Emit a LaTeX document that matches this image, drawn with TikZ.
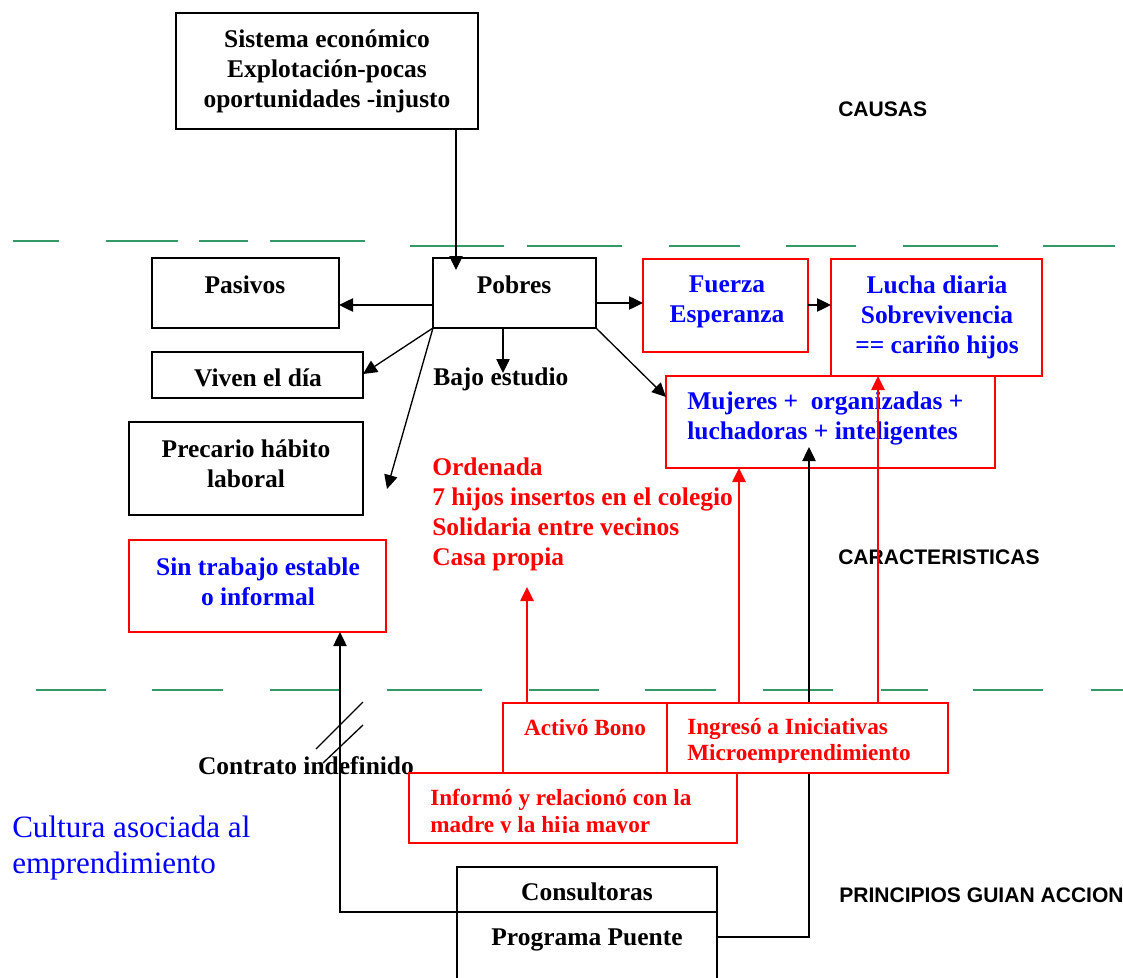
\documentclass[tikz,border=0pt]{standalone}
\usepackage{fontspec}
\setmainfont{Liberation Serif}
\setsansfont{Liberation Sans}
\usetikzlibrary{arrows.meta,fit,calc}
\definecolor{sgreen}{RGB}{51,153,102}
\begin{document}
\begin{tikzpicture}[x=0.75pt,y=-0.75pt,
  box/.style={draw=black,line width=1pt,inner sep=0pt,outer sep=0pt},
  rbox/.style={draw=red,line width=1.5pt,inner sep=0pt,outer sep=0pt},
  mt/.style={font=\bfseries\fontsize{19.1}{22.5}\selectfont,inner sep=0pt,align=center},
  bt/.style={mt,text=blue},
  rt/.style={font=\bfseries\fontsize{17.4}{20}\selectfont,inner sep=0pt,align=left,text=red},
  rl/.style={mt,align=left,text=red},
  st/.style={font=\sffamily\bfseries\fontsize{15.8}{19}\selectfont,inner sep=0pt,anchor=west},
  ct/.style={font=\fontsize{23.3}{27}\selectfont,inner sep=0pt,align=left,text=blue,anchor=west},
  arr/.style={-{Triangle[length=10.5pt,width=10pt]},line width=1pt,draw=black},
  rarr/.style={-{Triangle[length=10.5pt,width=10pt]},line width=1.2pt,draw=red},
  gdash/.style={draw=sgreen,line width=1.6pt}
]
\clip (0,0) rectangle (1123,977);

% green dashed separators
\foreach \a/\b in {13/59,106/178,199/248,270/365}{\draw[gdash] (\a,241) -- (\b,241);}
\foreach \a/\b in {410/504,527/622,669/740,786/856,903/998,1043/1115}{\draw[gdash] (\a,246) -- (\b,246);}
\foreach \a/\b in {36/106,152/223,270/340,387/482,529/599,645/716,763/833,881/928,973/1043,1091/1123}{\draw[gdash] (\a,690) -- (\b,690);}

% black boxes
\node[box,fit={(176,13) (478,129)}] (sis) {};
\node[mt] (sist) at (327,71) {Sistema económico\\Explotación-pocas\\oportunidades -injusto};
\node[box,fit={(152,258) (339,328)}] (pas) {};
\node[mt] (past) at (245,285) {Pasivos};
\node[box,fit={(433,258) (596,328)}] (pob) {};
\node[mt] (pobt) at (514,285) {Pobres};
\node[box,fit={(152,352) (363,398)}] (viv) {};
\node[mt] (vivt) at (258,378) {Viven el día};
\node[box,fit={(129,422) (363,515)}] (pre) {};
\node[mt] (pret) at (246,464) {Precario hábito\\laboral};
\node[mt,anchor=west] (bajo) at (433,379) {Bajo estudio};

% red boxes with blue text
\node[rbox,fit={(643,259) (808,352)}] (fue) {};
\node[bt] (fuet) at (727,302) {Fuerza\\Esperanza};
\node[rbox,fit={(831,259) (1042,376)}] (luc) {};
\node[bt] (luct) at (937,317) {Lucha diaria\\Sobrevivencia\\== cariño hijos};
\node[rbox,fit={(666,376) (995,468)}] (muj) {};
\node[bt,align=left,anchor=west] (mujt) at (687,418) {Mujeres +\ \ organizadas +\\luchadoras + inteligentes};
\node[rbox,fit={(129,540) (386,632)}] (sin) {};
\node[bt] (sint) at (258,582) {Sin trabajo estable\\o informal};

% red free text
\node[rl,anchor=west] (ord) at (432,514) {Ordenada\\7 hijos insertos en el colegio\\Solidaria entre vecinos\\Casa propia};

% side labels
\node[st] (causas) at (838,109) {CAUSAS};
\node[st] (carac) at (838,557) {CARACTERISTICAS};
\node[st] (princ) at (839,895) {PRINCIPIOS GUIAN ACCION};
\node[ct] (cult) at (12,848) {Cultura asociada al\\emprendimiento};

% consultoras / programa puente
\node[box,fit={(457,867) (717,995)}] (cons) {};
\draw[line width=1pt] (cons.west |- 0,912) -- (cons.east |- 0,912);
\node[mt] (const) at (587,892) {Consultoras};
\node[mt] (progt) at (587,940) {Programa Puente};

% black connectors
\coordinate (pobin) at (456,270);
\draw[arr] (sis.south -| pobin) -- (pobin);
\draw[arr] (pob.west |- 0,305) -- (pas.east |- 0,305);
\draw[arr] (pob.east |- 0,303) -- (fue.west |- 0,303);
\draw[arr] (fue.east |- 0,305) -- (luc.west |- 0,305);
\draw[arr] (pob.south west) -- (viv.east |- 0,374);
\coordinate (pretip) at (387,489);
\draw[arr] (pob.south west) -- (pretip);
\coordinate (bajotip) at (503,373);
\draw[arr] (pob.south -| bajotip) -- (bajotip);
\draw[arr] (pob.south east) -- (muj.west |- 0,397);
\coordinate (mujin) at (809,447);
\draw[arr] (cons.east |- 0,937) -| (mujin);
\draw[arr] (cons.west |- 0,912) -| (sin.south -| 340,0);

% contract slashes and label
\node[mt] (contr) at (306,766) {Contrato indefinido};
\draw[line width=1pt] (316,749) -- (363,702);
\draw[line width=1pt] (323,763) -- (363,725);

% bottom red boxes
\node[rbox,fill=white,fit={(503,703) (667,773)}] (act) {};
\node[rt,align=center] (actt) at (585,728) {Activó Bono};
\node[rbox,fill=white,fit={(667,703) (948,773)}] (ing) {};
\begin{scope}
\clip (667,703) rectangle (948,762);
\node[rt,anchor=west] (ingt) at (687,742) {Ingresó a Iniciativas\\Microemprendimiento};
\end{scope}
\node[rbox,fill=white,fit={(409,773) (737,843)}] (inf) {};
\begin{scope}
\clip (409,773) rectangle (737,832);
\node[rt,anchor=west] (inft) at (430,813) {Informó y relacionó con la\\madre y la hija mayor};
\end{scope}

% red connectors
\coordinate (ordtip) at (527,587);
\draw[rarr] (act.north -| ordtip) -- (ordtip);
\draw[rarr] (ing.north -| 739,0) -- (muj.south -| 739,0);
\draw[rarr] (ing.north -| 878,0) -- (luc.south -| 878,0);
\end{tikzpicture}
\end{document}
